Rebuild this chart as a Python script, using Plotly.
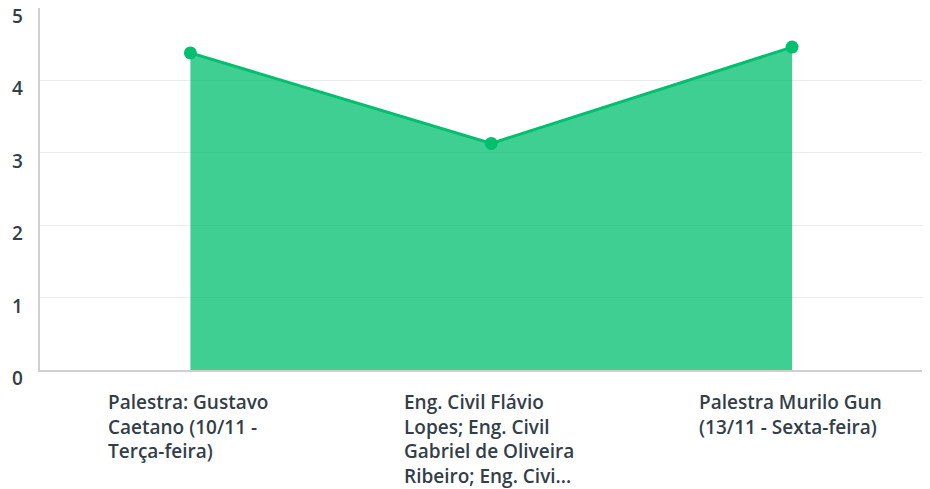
import plotly.graph_objects as go

# Dados do gráfico
categorias = ["Palestra: Gustavo<br>Caetano (10/11 -<br>Terça-feira)",
              "Eng. Civil Flávio<br>Lopes; Eng. Civil<br>Gabriel de Oliveira<br>Ribeiro; Eng. Civi...",
              "Palestra Murilo Gun<br>(13/11 - Sexta-feira)"]
valores = [4.38, 3.13, 4.46]
ticks_y = [0, 1, 2, 3, 4, 5]

VERDE = "#00BF6F"
TEXTO = "#333E48"
FONTE = "Open Sans"
fonte_rotulo = dict(family=FONTE, size=19, color=TEXTO, weight=600)

fig = go.Figure()

# Área + linha + pontos
fig.add_trace(go.Scatter(
    x=list(range(len(categorias))), y=valores,
    mode="lines+markers", fill="tozeroy",
    fillcolor="rgba(0,191,111,0.75)",
    line=dict(color=VERDE, width=3),
    marker=dict(color=VERDE, size=13),
    hoverinfo="skip", showlegend=False, cliponaxis=False,
))

# Rótulos do eixo x, alinhados à esquerda
for i, cat in enumerate(categorias):
    fig.add_annotation(
        x=i, y=0, xref="x", yref="y", text=cat,
        showarrow=False, xanchor="center", yanchor="top", align="left",
        yshift=-17, xshift=-2, font=fonte_rotulo,
    )

# Rótulos do eixo y (um pouco abaixo da linha de grade)
for v in ticks_y:
    fig.add_annotation(
        x=0, y=v, xref="paper", yref="y", text=str(v),
        showarrow=False, xanchor="right", yanchor="middle",
        xshift=-15, yshift=-8, font=fonte_rotulo,
    )

fig.update_xaxes(
    range=[-0.5, 2.485], showticklabels=False, showgrid=False,
    showline=True, linecolor="#D0D0D0", linewidth=2, zeroline=False,
    automargin=False,
)
fig.update_yaxes(
    range=[0, 5], tickvals=ticks_y, showticklabels=False, showgrid=True,
    gridcolor="#EBEBEB", gridwidth=1, showline=True, linecolor="#D0D0D0",
    linewidth=2, zeroline=False, automargin=False,
)

# a página tem 8px de margem no body
fig.update_layout(
    width=930, height=489,
    margin=dict(l=32, r=0, t=0, b=127),
    plot_bgcolor="white", paper_bgcolor="white",
)

fig.write_html("out.html")
